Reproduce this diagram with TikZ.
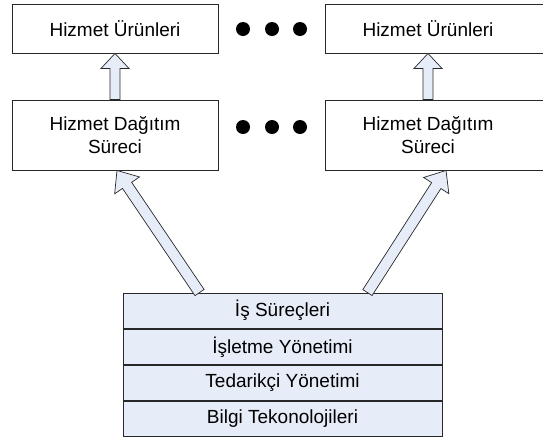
\documentclass[tikz,border=0pt]{standalone}
\usepackage{fontspec}
\setmainfont{Liberation Sans}
\usetikzlibrary{calc}
\definecolor{layerfill}{RGB}{231,237,248}
\definecolor{edge}{RGB}{40,40,40}
% block arrow from #1 to #2: half shaft width #3, half head width #4, head length #5
\newcommand\blockarrow[5]{%
  \coordinate (ahead) at ($(#2)!#5!(#1)$);
  \filldraw[arrowbody]
    ($(#1)!#3!90:(#2)$) -- ($(ahead)!#3!90:(#2)$) -- ($(ahead)!#4!90:(#2)$)
    -- (#2) -- ($(ahead)!#4!-90:(#2)$) -- ($(ahead)!#3!-90:(#2)$)
    -- ($(#1)!#3!-90:(#2)$) -- cycle;}
\begin{document}
\begin{tikzpicture}[x=1pt,y=-1pt,
  box/.style={draw=edge,line width=0.9pt,fill=white,minimum height=#1,inner sep=0pt},
  lbl/.style={font=\fontsize{19}{23}\selectfont,align=center,inner sep=0pt},
  layer/.style={draw=edge,line width=0.9pt,fill=layerfill,minimum width=319pt,
    minimum height=35.25pt,inner sep=0pt,font=\fontsize{19}{23}\selectfont},
  arrowbody/.style={draw=edge,line width=0.7pt,fill=layerfill,line join=miter},
  dot/.style={circle,fill=black,minimum size=14pt,inner sep=0pt}]
\useasboundingbox (0,0) rectangle (543,437);

% products row
\node[box=49pt,minimum width=206pt,lbl] (p1) at (115,28.5) {Hizmet Ürünleri};
\node[box=49pt,minimum width=222pt] (p2) at (436,28.5) {};
\node[lbl] (p2t) at (428,28.5) {Hizmet Ürünleri};

% delivery process row
\node[box=70pt,minimum width=206pt,lbl] (d1) at (115,135) {Hizmet Dağıtım\\Süreci};
\node[box=70pt,minimum width=222pt] (d2) at (436,135) {};
\node[lbl] (d2t) at (428,135) {Hizmet Dağıtım\\Süreci};

% ellipsis dots
\foreach \x [count=\i] in {243,272,300}{
  \node[dot] (ua\i) at (\x,29) {};
  \node[dot] (la\i) at (\x,127) {};
}

% layered foundation
\node[layer] (l1) at (282.5,310.625) {İş Süreçleri};
\node[layer,anchor=north] (l2) at (l1.south) {İşletme Yönetimi};
\node[layer,anchor=north] (l3) at (l2.south) {Tedarikçi Yönetimi};
\node[layer,anchor=north] (l4) at (l3.south) {Bilgi Tekonolojileri};

% connectors
\coordinate (a1s) at (d1.north);
\coordinate (a1e) at (p1.south);
\blockarrow{a1s}{a1e}{5pt}{14pt}{15pt}
\coordinate (a2s) at (d2.north -| p2t);
\coordinate (a2e) at (p2.south -| p2t);
\blockarrow{a2s}{a2e}{5pt}{14pt}{15pt}

\coordinate (b1s) at ($(l1.north west)+(77,0)$);
\coordinate (b1e) at ($(d1.south)+(2,0)$);
\blockarrow{b1s}{b1e}{5.5pt}{15pt}{18pt}
\coordinate (b2s) at ($(l1.north east)+(-75,0)$);
\coordinate (b2e) at ($(d2.south -| p2t)+(18,0)$);
\blockarrow{b2s}{b2e}{5.5pt}{15pt}{18pt}
\end{tikzpicture}
\end{document}
